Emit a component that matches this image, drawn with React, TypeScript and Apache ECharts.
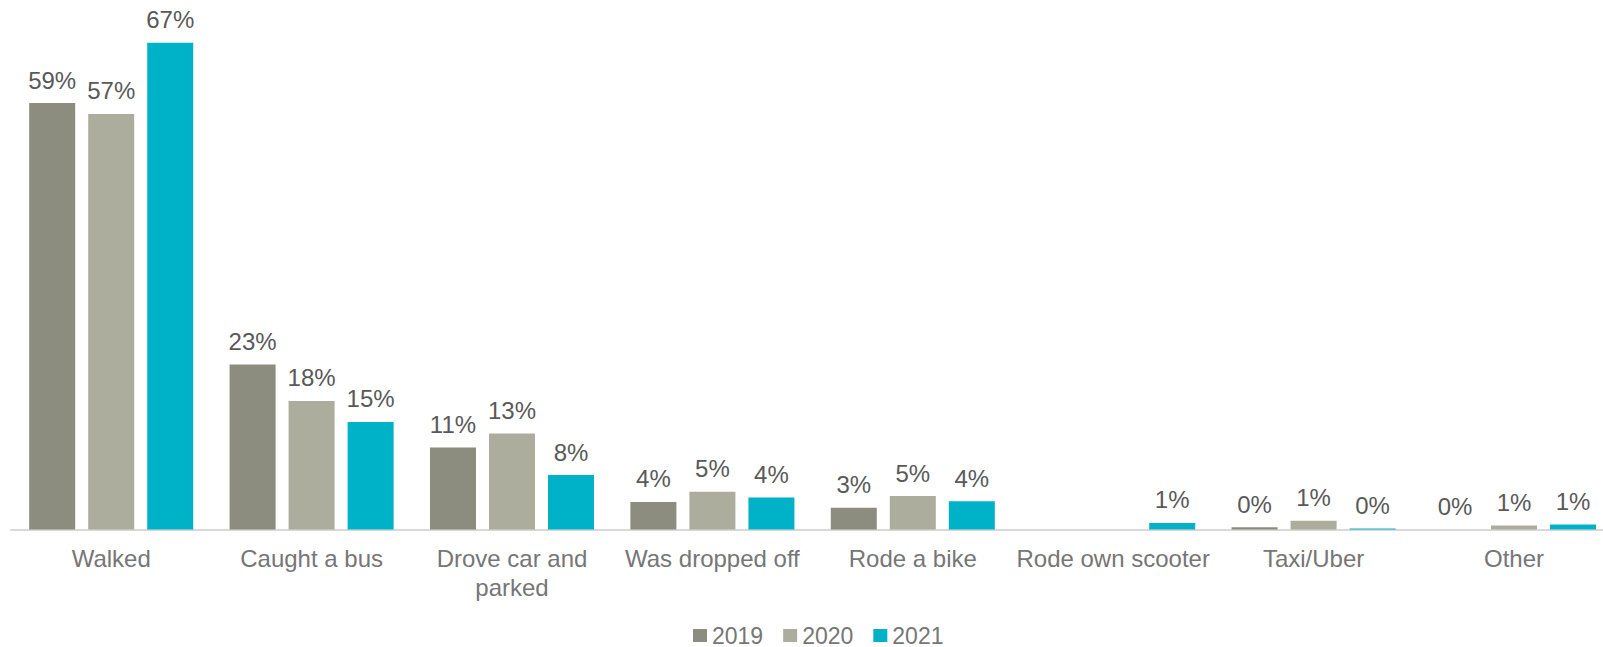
import React, { useEffect, useRef } from "react";
import * as echarts from "echarts";

const categories = [
  "Walked",
  "Caught a bus",
  "Drove car and\nparked",
  "Was dropped off",
  "Rode a bike",
  "Rode own scooter",
  "Taxi/Uber",
  "Other",
];
const seriesNames = ["2019", "2020", "2021"];
const values2019: (number | null)[] = [58.7, 22.7, 11.3, 3.8, 3.0, null, 0.3, 0];
const values2020: (number | null)[] = [57.2, 17.7, 13.2, 5.2, 4.6, null, 1.2, 0.55];
const values2021: (number | null)[] = [67.0, 14.8, 7.5, 4.4, 3.9, 0.9, 0.15, 0.7];
const colors = ["#8C8C7F", "#ADAD9D", "#00B2C8"];

export default function App() {
  const ref = useRef<HTMLDivElement>(null);
  useEffect(() => {
    document.body.style.margin = "0";
    if (!ref.current) return;
    const chart = echarts.init(ref.current, null, { renderer: "svg" });
    const data = [values2019, values2020, values2021];
    chart.setOption({
      animation: false,
      textStyle: { fontFamily: "Liberation Sans, Arial, sans-serif" },
      grid: {
        left: 11,
        top: 21,
        width: 1603.2,
        height: 508.5,
        outerBoundsMode: "none",
        containLabel: false,
      },
      legend: {
        data: seriesNames,
        left: 688,
        top: 619,
        itemWidth: 14,
        itemHeight: 13,
        itemGap: 20,
        icon: "rect",
        textStyle: { fontSize: 23, color: "#767676", fontFamily: "Liberation Sans, Arial, sans-serif" },
      },
      xAxis: {
        type: "category",
        data: categories,
        axisTick: { show: false },
        axisLine: { lineStyle: { color: "#D9D9D9", width: 2 } },
        axisLabel: {
          fontSize: 24,
          color: "#767676",
          margin: 14,
          lineHeight: 29,
          interval: 0,
          fontFamily: "Liberation Sans, Arial, sans-serif",
        },
      },
      yAxis: {
        type: "value",
        min: 0,
        max: 70,
        show: false,
        splitLine: { show: false },
      },
      series: seriesNames.map((name, i) => ({
        name,
        type: "bar",
        data: data[i],
        barWidth: 46,
        barGap: "28.3%",
        itemStyle: { color: colors[i] },
        label: {
          show: true,
          position: "top",
          distance: 11,
          fontSize: 24,
          color: "#595959",
          fontFamily: "Liberation Sans, Arial, sans-serif",
          formatter: (p: any) => Math.round(p.value) + "%",
        },
      })),
    });
    return () => chart.dispose();
  }, []);
  return <div ref={ref} style={{ width: 1603, height: 647 }} />;
}
